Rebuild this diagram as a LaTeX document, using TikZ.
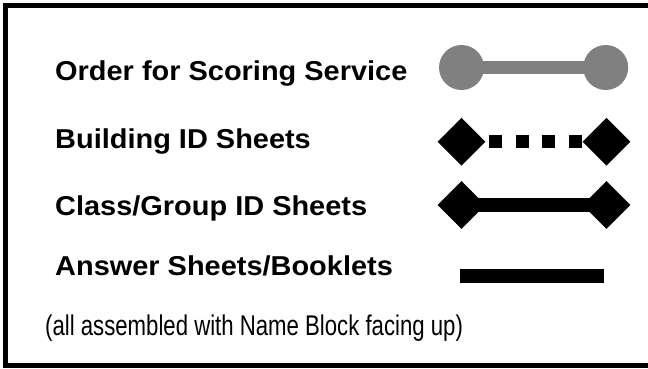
\documentclass[tikz,border=0pt]{standalone}
\usepackage{fontspec}
\setmainfont{Liberation Sans}
\newfontfamily\lblfont{Liberation Sans}[FakeStretch=1.06]
\newfontfamily\notefont{Liberation Sans}[FakeStretch=0.778]
\usetikzlibrary{shapes.geometric}
\begin{document}
\begin{tikzpicture}[x=1pt,y=-1pt,
  lbl/.style={anchor=base west,inner sep=0pt,font=\lblfont\bfseries\fontsize{27.3}{30}\selectfont},
  note/.style={anchor=base west,inner sep=0pt,font=\notefont\fontsize{28.5}{30}\selectfont},
  ball/.style={circle,fill=gray,inner sep=0pt,minimum size=45pt},
  dia/.style={diamond,fill=black,inner sep=0pt,minimum width=48pt,minimum height=48pt},
  grayline/.style={gray,line width=13pt},
  blackline/.style={black,line width=14pt},
  dotline/.style={black,line width=13pt,dash pattern=on 13pt off 13.6pt}]
\useasboundingbox (0,0) rectangle (648,368);
\clip (0,0) rectangle (648,368);
\fill[white] (0,0) rectangle (648,368);
\draw[line width=4.8pt] (5.8,5.8) rectangle (660,365.5);
% labels
\node[lbl] (t1) at (55,80.7) {Order for Scoring Service};
\node[lbl] (t2) at (55,148.3) {Building ID Sheets};
\node[lbl] (t3) at (55,215.7) {Class/Group ID Sheets};
\node[lbl] (t4) at (55,275.7) {Answer Sheets/Booklets};
\node[note] (t5) at (45,335) {(all assembled with Name Block facing up)};
% row 1
\node[ball] (b1l) at (461.5,67.5) {};
\node[ball] (b1r) at (605.7,67.5) {};
\draw[grayline] (b1l.center) -- (b1r.center);
% row 2
\node[dia] (d2l) at (461.5,141.7) {};
\node[dia] (d2r) at (606.5,141.7) {};
\draw[dotline] ([xshift=3.3pt]d2l.east) -- (d2r.west);
% row 3
\node[dia] (d3l) at (461.5,205) {};
\node[dia] (d3r) at (606.5,205) {};
\draw[blackline] (d3l.center) -- (d3r.center);
% row 4
\coordinate (a4l) at (460,276);
\coordinate (a4r) at (604,276);
\draw[black,line width=13.7pt] (a4l) -- (a4r);
\end{tikzpicture}
\end{document}
